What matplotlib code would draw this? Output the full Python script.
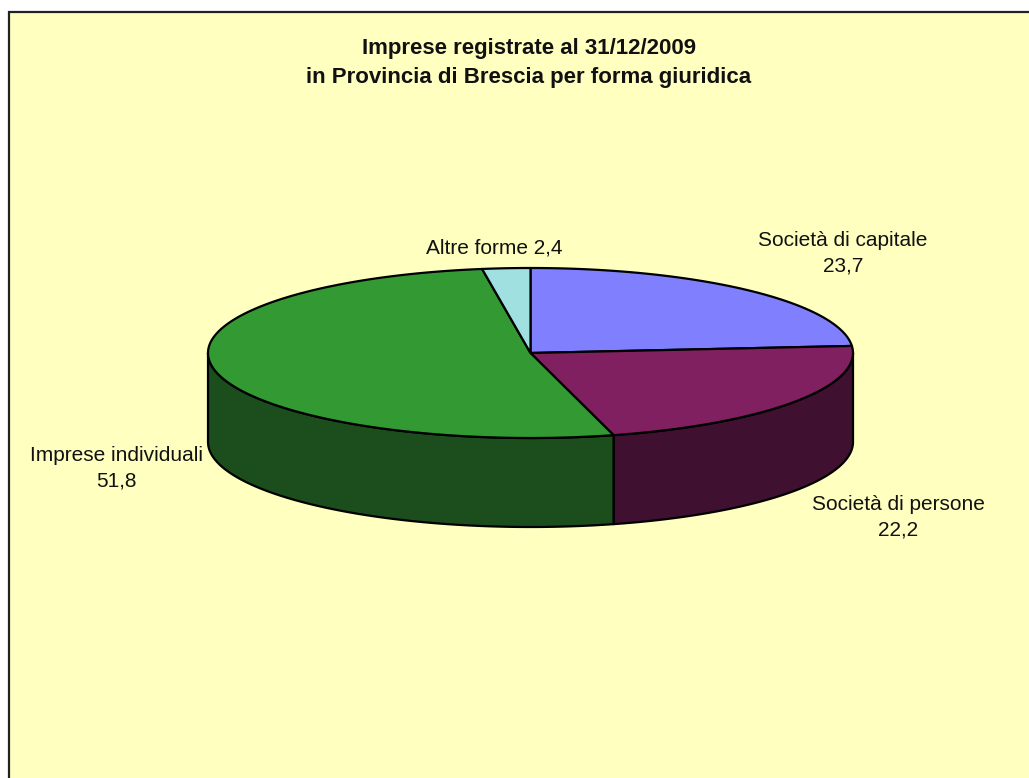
import numpy as np
import matplotlib
matplotlib.use("Agg")
import matplotlib.pyplot as plt
from matplotlib.patches import Polygon, Rectangle

plt.rcParams['font.family'] = ['Liberation Sans', 'DejaVu Sans']

TITLE = "Imprese registrate al 31/12/2009\nin Provincia di Brescia per forma giuridica"
categories = ["Società di capitale", "Società di persone", "Imprese individuali", "Altre forme"]
values = [23.7, 22.2, 51.8, 2.4]
top_colors = ["#8080FF", "#802060", "#339933", "#A0E0E0"]
side_colors = ["#4040A0", "#3F1030", "#1C4D1C", "#508080"]

# label text layout: (x, y, one line?)
label_pos = [(843, 253, False), (898, 517, False), (116, 468, False), (494, 248, True)]

# pie geometry in pixels
CX, CY = 530.5, 353.0
RX, RY = 322.5, 85.0
DEPTH = 89.0
BG = "#FFFFC0"


def arc(t1, t2, dy=0.0, n=200):
    t = np.radians(np.linspace(t1, t2, n))
    return np.column_stack([CX + RX * np.cos(t), CY - RY * np.sin(t) + dy])


fig = plt.figure(figsize=(10.29, 7.78), dpi=100)
ax = fig.add_axes([0, 0, 1, 1])
ax.set_xlim(0, 1029)
ax.set_ylim(778, 0)
ax.axis("off")

# chart area background, only left and top frame visible
ax.add_patch(Rectangle((9, 12), 1040, 800, facecolor=BG, edgecolor="none", zorder=0))
ax.plot([9, 9, 1040], [800, 12, 12], color="#222222", lw=1.6, zorder=1,
        solid_joinstyle="miter")

fracs = np.array(values) / np.sum(values)
cum = np.concatenate([[0], np.cumsum(fracs)])
angles = [(90 - cum[i + 1] * 360, 90 - cum[i] * 360) for i in range(len(values))]

# front side walls
for (t1, t2), col in zip(angles, side_colors):
    for k in (-360, 0, 360):
        lo, hi = max(t1 + k, -180), min(t2 + k, 0)
        if hi - lo > 0.01:
            top = arc(lo, hi)
            bot = arc(hi, lo, DEPTH)
            ax.add_patch(Polygon(np.vstack([top, bot]), closed=True, facecolor=col,
                                 edgecolor="black", lw=1.6, joinstyle="round", zorder=2))

# top faces
for (t1, t2), col in zip(angles, top_colors):
    pts = np.vstack([[CX, CY], arc(t1, t2)])
    ax.add_patch(Polygon(pts, closed=True, facecolor=col, edgecolor="black",
                         lw=1.6, joinstyle="round", zorder=3))

for name, val, (x, y, one) in zip(categories, values, label_pos):
    v = f"{val:.1f}".replace(".", ",")
    txt = f"{name} {v}" if one else f"{name}\n{v}"
    ax.text(x, y, txt, ha="center", va="center", fontsize=15, linespacing=1.45,
            color="#111111", zorder=5)

ax.text(529, 63, TITLE, ha="center", va="center", fontsize=16, fontweight="bold",
        linespacing=1.55, color="#111111", zorder=5)

fig.savefig("out.png", dpi=100, facecolor="white")
